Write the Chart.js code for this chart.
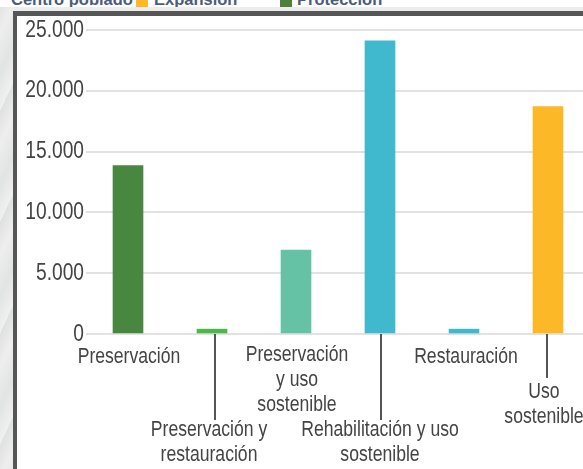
<!doctype html>
<html>

<head>
	<title>Usos</title>
	<script src="https://cdn.jsdelivr.net/npm/chart.js@4"></script>
	<meta charset="UTF-8">
	<style>
		html, body { margin: 0; padding: 0; width: 583px; height: 469px; overflow: hidden; background: #e6e7e7; }
		#strip { position: absolute; left: 0; top: 0; width: 13px; height: 469px;
			background: repeating-linear-gradient(115deg, #dfe0e0 0, #eeeeee 14px, #e2e3e3 31px, #f0f0f0 47px); }
		#legend { position: absolute; left: 0; top: 0; width: 583px; height: 7px; overflow: hidden; background: #fff;
			font: bold 16.5px "Liberation Sans", sans-serif; color: #4d5c78; }
		#legend span { position: absolute; top: -10px; white-space: nowrap; }
		#legend i { position: absolute; top: 0; width: 12px; height: 7px; }
		#band { position: absolute; left: 13px; top: 7px; width: 570px; height: 4px; background: #eceded; }
		#frame { position: absolute; left: 13px; top: 11px; width: 570px; height: 458px; box-sizing: border-box;
			background: #fff; border-left: 4px solid #565656; border-top: 5px solid #565656; }
		#chart-area { position: absolute; left: 0; top: 0; }
	</style>
</head>
<body>
<div id="strip"></div>
<div id="band"></div>
<div id="legend">
	<span style="left:11px">Centro poblado</span><i style="left:136px;background:#fdb827"></i>
	<span style="left:154px">Expansión</span><i style="left:280px;background:#4f7f3a"></i>
	<span style="left:297px">Protección</span>
</div>
<div id="frame"></div>
<canvas id="chart-area" width="590" height="469"></canvas>
<script>
	var categories = ['Preservación', 'Preservación y restauración', 'Preservación y uso sostenible', 'Rehabilitación y uso sostenible', 'Restauración', 'Uso sostenible'];
	var hectares = [13850, 400, 6900, 24100, 400, 18700];
	var barColors = ['#47873f', '#4db848', '#66c2a5', '#40b8ce', '#40b8ce', '#fdb827'];
	var tickValues = [0, 5000, 10000, 15000, 20000, 25000];

	// how each category label is broken and where it sits below the bars
	var labelLines = [
		['Preservación'],
		['Preservación y', 'restauración'],
		['Preservación', 'y uso', 'sostenible'],
		['Rehabilitación y uso', 'sostenible'],
		['Restauración'],
		['Uso', 'sostenible']
	];
	var labelTop = [357, 430, 355, 430, 357, 392];
	var labelShift = [1, -3, 1, 0, 2, -4];
	var leaderEnd = [0, 420, 0, 420, 0, 378];
	var leaderShift = [0, 3, 0, 1, 0, -1];

	// no narrow font is installed, so the text is squeezed to look like the condensed original
	var squeeze = 0.8;

	function squeezedText(ctx, text, x, y) {
		ctx.save();
		ctx.translate(x, y);
		ctx.scale(squeeze, 1);
		ctx.fillText(text, 0, 0);
		ctx.restore();
	}

	function formatTick(v) {
		return String(v).replace(/\B(?=(\d{3})+$)/g, '.');
	}

	var squeezedLabels = {
		id: 'squeezedLabels',
		afterDatasetsDraw: function (chart) {
			var ctx = chart.ctx;
			var x = chart.scales.x;
			var y = chart.scales.y;
			var base = y.getPixelForValue(0);
			ctx.save();
			ctx.strokeStyle = '#555';
			ctx.lineWidth = 2;
			ctx.fillStyle = '#444';
			ctx.textBaseline = 'middle';

			ctx.font = '24px "Liberation Sans", sans-serif';
			ctx.textAlign = 'right';
			tickValues.forEach(function (v) {
				squeezedText(ctx, formatTick(v), y.right - 2, y.getPixelForValue(v));
			});

			ctx.font = '22px "Liberation Sans", sans-serif';
			ctx.textAlign = 'center';
			for (var i = 0; i < categories.length; i++) {
				var cx = x.getPixelForValue(i);
				if (leaderEnd[i]) {
					ctx.beginPath();
					ctx.moveTo(cx + leaderShift[i], base);
					ctx.lineTo(cx + leaderShift[i], leaderEnd[i]);
					ctx.stroke();
				}
				for (var j = 0; j < labelLines[i].length; j++) {
					squeezedText(ctx, labelLines[i][j], cx + labelShift[i], labelTop[i] + j * 25);
				}
			}
			ctx.restore();
		}
	};

	var config = {
		type: 'bar',
		data: {
			labels: categories,
			datasets: [
				{
					data: hectares,
					backgroundColor: barColors,
					barThickness: 30,
					label: 'Hectáreas'
				}
			]
		},
		options: {
			responsive: false,
			animation: false,
			layout: { padding: { left: 17, top: 30, right: 0, bottom: 0 } },
			plugins: {
				legend: { display: false },
				tooltip: { enabled: false }
			},
			scales: {
				x: {
					grid: { display: false },
					border: { display: false },
					ticks: { display: false },
					afterFit: function (scale) { scale.height = 135; }
				},
				y: {
					min: 0,
					max: 25000,
					afterBuildTicks: function (scale) {
						scale.ticks = tickValues.map(function (v) { return { value: v }; });
					},
					afterFit: function (scale) { scale.width = 69; },
					grid: { color: '#e2e2e2', lineWidth: 2, drawTicks: false },
					border: { display: false },
					ticks: { display: false }
				}
			}
		},
		plugins: [squeezedLabels]
	};

	window.myBars = new Chart(document.getElementById('chart-area').getContext('2d'), config);
</script>
</body>

</html>
